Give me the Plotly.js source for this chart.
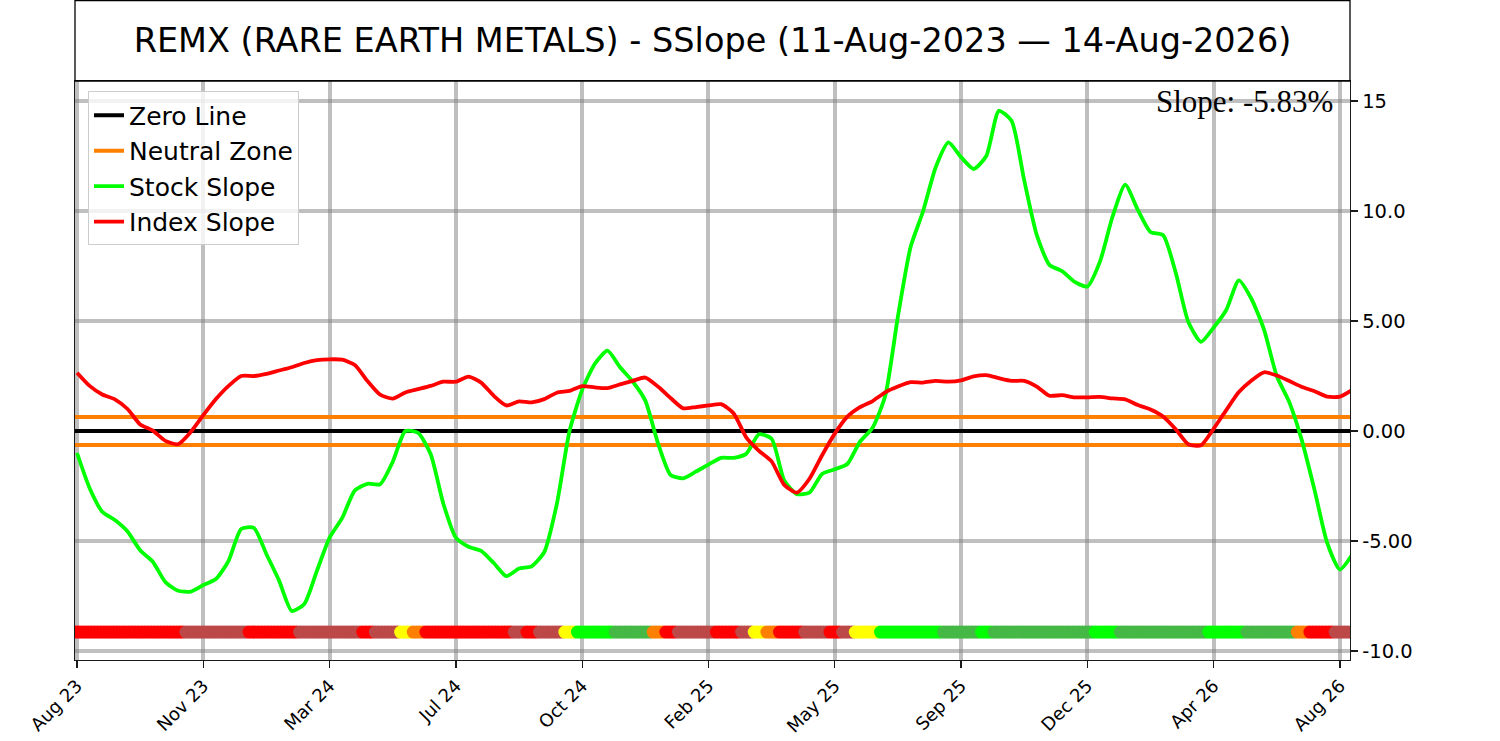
<!DOCTYPE html>
<html>
<head>
<meta charset="utf-8">
<script src="https://cdn.plot.ly/plotly-3.0.1.min.js"></script>
<style>
  html, body { margin: 0; padding: 0; background: #ffffff; }
  #chart { width: 1500px; height: 741px; }
</style>
</head>
<body>
<div id="chart"></div>
<script>
// ---------------- DATA ----------------
const chartTitle = 'REMX (RARE EARTH METALS) - SSlope (11-Aug-2023 \u2014 14-Aug-2026)';
const tickLabels = ['Aug 23', 'Nov 23', 'Mar 24', 'Jul 24', 'Oct 24', 'Feb 25',
                    'May 25', 'Sep 25', 'Dec 25', 'Apr 26', 'Aug 26'];
const samplesPerTick = 10;

const stockSlope = [
  -1.0, -2.6, -3.67, -4.05, -4.57, -5.42, -5.94, -6.87, -7.26, -7.3,
  -7.0, -6.73, -5.9, -4.45, -4.4, -5.6, -6.8, -8.18, -7.86, -6.35,
  -4.85, -3.95, -2.7, -2.4, -2.42, -1.4, 0.0, -0.08, -1.05, -3.29,
  -4.85, -5.26, -5.45, -6.0, -6.6, -6.25, -6.15, -5.5, -3.3, 0.0,
  1.87, 3.05, 3.65, 2.9, 2.25, 1.38, -0.55, -2.0, -2.15, -1.85,
  -1.53, -1.22, -1.22, -1.03, -0.15, -0.35, -2.25, -2.87, -2.8, -1.95,
  -1.74, -1.5, -0.48, 0.15, 1.6, 5.2, 8.35, 10.0, 12.0, 13.12,
  12.45, 11.91, 12.5, 14.55, 14.1, 11.4, 8.9, 7.55, 7.27, 6.78,
  6.57, 7.7, 9.75, 11.2, 10.05, 9.05, 8.9, 7.2, 4.95, 4.05,
  4.7, 5.5, 6.85, 6.0, 4.6, 2.5, 1.3, -0.45, -2.7, -5.1,
  -6.3, -5.6
];

const indexSlope = [
  2.65, 2.05, 1.66, 1.44, 1.0, 0.3, 0.02, -0.45, -0.6, -0.05,
  0.72, 1.45, 2.05, 2.5, 2.5, 2.6, 2.75, 2.9, 3.09, 3.22,
  3.26, 3.24, 3.0, 2.27, 1.65, 1.47, 1.75, 1.9, 2.05, 2.24,
  2.24, 2.47, 2.2, 1.6, 1.16, 1.35, 1.3, 1.45, 1.74, 1.82,
  2.04, 1.98, 1.95, 2.12, 2.28, 2.43, 2.02, 1.5, 1.03, 1.09,
  1.16, 1.22, 0.8, -0.3, -0.9, -1.38, -2.45, -2.8, -2.17, -1.1,
  -0.12, 0.65, 1.08, 1.36, 1.76, 2.02, 2.22, 2.2, 2.28, 2.24,
  2.3, 2.48, 2.54, 2.4, 2.28, 2.28, 2.02, 1.6, 1.63, 1.53,
  1.53, 1.55, 1.48, 1.44, 1.18, 0.98, 0.66, 0.08, -0.6, -0.65,
  0.1, 0.95, 1.77, 2.3, 2.67, 2.52, 2.27, 2.0, 1.81, 1.56,
  1.56, 1.88
];

// signal state per sample: R=red, B=brown, Y=yellow, O=orange, L=lime, G=green
const signalState = (
  'RRRRRRRRR' + 'BBBBB' + 'RRRR' + 'BBBBB' + 'R' + 'BB' + 'Y' + 'O' +
  'RRRRRRR' + 'B' + 'R' + 'BB' + 'Y' + 'LLL' + 'GGG' + 'O' + 'R' + 'BBB' +
  'RR' + 'B' + 'Y' + 'O' + 'RR' + 'BB' + 'R' + 'B' + 'YY' + 'LLLLL' +
  'GGG' + 'L' + 'GGGGGGGG' + 'LL' + 'GGGGGGG' + 'LLL' + 'GGGG' + 'O' + 'RR' + 'BB'
).split('');

const yTickVals = [15, 10, 5, 0, -5, -10];
const yTickText = ['15', '10.0', '5.00', '0.00', '-5.00', '-10.0'];
const neutralZone = 0.64;
const signalLevel = -9.14;
const slopePct = -5.83;

// ---------------- STYLE ----------------
const stateColors = { R: '#FF0000', B: '#BC4848', Y: '#FFFF00', O: '#FF8000', L: '#00FF00', G: '#45B845' };
const FONT = 'DejaVu Sans';
const xRange = [-0.16, 100.8];
const yRange = [-10.409, 15.909];

const idx = stockSlope.map((_, i) => i);
const tickVals = tickLabels.map((_, k) => k * samplesPerTick);
const ends = [xRange[0] - 1, xRange[1] + 1];

// denser dot strip: each sample's state drawn as several overlapping dots
const subSteps = 4;
const dotX = [], dotC = [];
signalState.forEach((s, i) => {
  for (let k = 0; k < subSteps; k++) {
    dotX.push(i - 0.5 + (k + 0.5) / subSteps);
    dotC.push(stateColors[s]);
  }
});

const traces = [
  { x: ends, y: ends.map(() => 0), mode: 'lines', name: 'Zero Line',
    line: { color: '#000000', width: 4 }, legendgroup: 'z' },
  { x: ends, y: ends.map(() => neutralZone), mode: 'lines', name: 'Neutral Zone',
    line: { color: '#FF8000', width: 4 }, legendgroup: 'n' },
  { x: ends, y: ends.map(() => -neutralZone), mode: 'lines', name: 'Neutral Zone',
    line: { color: '#FF8000', width: 4 }, legendgroup: 'n', showlegend: false },
  { x: idx, y: stockSlope, mode: 'lines', name: 'Stock Slope',
    line: { color: '#00FF00', width: 3.8, shape: 'spline', smoothing: 0.6 }, legendgroup: 's' },
  { x: idx, y: indexSlope, mode: 'lines', name: 'Index Slope',
    line: { color: '#FF0000', width: 3.8, shape: 'spline', smoothing: 0.6 }, legendgroup: 'i' },
  { x: dotX, y: dotX.map(() => signalLevel), mode: 'markers', showlegend: false, hoverinfo: 'skip',
    marker: { size: 13, color: dotC, line: { width: 0 } }, cliponaxis: true }
];

const axisCommon = {
  showline: true, linecolor: '#1a1a1a', linewidth: 1.3, mirror: true,
  ticks: 'outside', ticklen: 7, tickwidth: 1.3, tickcolor: '#1a1a1a',
  showgrid: true, gridcolor: 'rgba(128,128,128,0.5)', gridwidth: 4,
  zeroline: false, fixedrange: true
};

const layout = {
  width: 1500, height: 741,
  margin: { l: 75, r: 150, t: 81, b: 81, pad: 0 },
  paper_bgcolor: '#ffffff', plot_bgcolor: '#ffffff',
  title: {
    text: chartTitle,
    font: { family: FONT, size: 33.5, color: '#000000' },
    xref: 'paper', x: 0.5, xanchor: 'center',
    yref: 'container', y: 1 - 40 / 741, yanchor: 'middle'
  },
  xaxis: Object.assign({}, axisCommon, {
    range: xRange, tickmode: 'array', tickvals: tickVals, ticktext: tickLabels,
    tickangle: -45, tickfont: { family: FONT, size: 18, color: '#000000' }
  }),
  yaxis: Object.assign({}, axisCommon, {
    side: 'right', range: yRange, tickmode: 'array', tickvals: yTickVals, ticktext: yTickText,
    tickfont: { family: FONT, size: 19.5, color: '#000000' }
  }),
  showlegend: true,
  legend: {
    x: 0.0102, y: 0.982, xanchor: 'left', yanchor: 'top',
    bgcolor: 'rgba(255,255,255,0.8)', bordercolor: '#cccccc', borderwidth: 1,
    font: { family: FONT, size: 25, color: '#000000' },
    itemwidth: 30, tracegroupgap: 1, traceorder: 'normal'
  },
  shapes: [{
    type: 'rect', xref: 'paper', yref: 'paper', x0: 0, x1: 1, y0: 1, y1: 1 + 80.5 / 579,
    line: { color: '#000000', width: 1.3 }, fillcolor: 'rgba(0,0,0,0)'
  }],
  annotations: [{
    text: 'Slope: ' + slopePct.toFixed(2) + '%', showarrow: false,
    xref: 'paper', x: 0.988, xanchor: 'right',
    yref: 'paper', y: (660 - 101) / 579, yanchor: 'middle',
    font: { family: 'Liberation Serif', size: 31, color: '#000000' }
  }]
};

Plotly.newPlot('chart', traces, layout, { displayModeBar: false, staticPlot: true });
</script>
</body>
</html>
